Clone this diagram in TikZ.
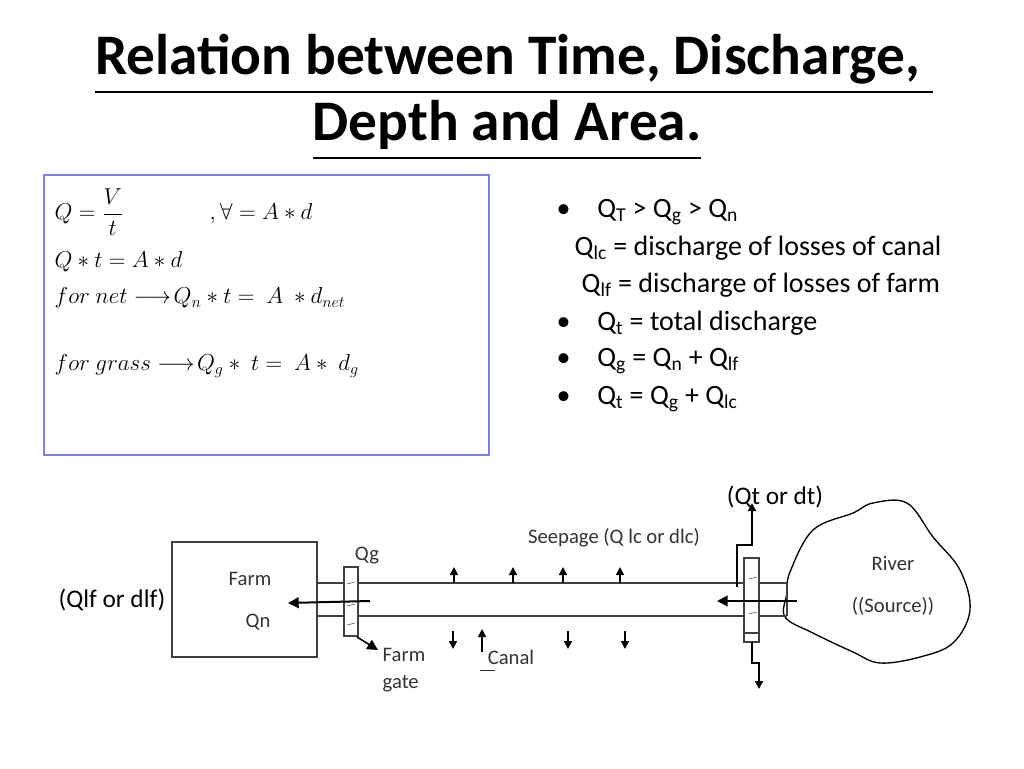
\documentclass[tikz,border=0pt]{standalone}
\usepackage{fontspec}
\setmainfont{Carlito}
\usepackage{amsmath,amssymb}
\usetikzlibrary{arrows.meta}

\begin{document}
\begin{tikzpicture}[
        x=0.75pt,y=-0.75pt,
        canal/.style={draw=black!75,line width=0.8pt},
        flow/.style={line width=1.5pt,-{Triangle[length=8pt,width=8pt]}},
        seep/.style={line width=1.2pt,-{Triangle[length=6pt,width=6pt]}},
        lbl/.style={font=\fontsize{15.5}{18}\selectfont,text=black!80},
        biglbl/.style={font=\fontsize{19}{22}\selectfont},
        bul/.style={font=\fontsize{21}{24}\selectfont,anchor=west},
        eq/.style={font=\fontsize{18.5}{22}\selectfont,anchor=west}
      ]
      \useasboundingbox (0,0) rectangle (1024,768);

      % title
      \node[font=\fontsize{43}{50}\selectfont\bfseries] (title1) at (514,65) {\underline{Relation between Time, Discharge, }};
      \node[font=\fontsize{43}{50}\selectfont\bfseries] (title2) at (507,131) {\underline{Depth and Area.}};

      % equation box
      \draw[draw=black!30!blue!50,line width=0.8pt] (44,175) rectangle (489,455);
      \node[eq] (eq1) at (50,212) {$Q=\dfrac{V}{t}$};
      \node[eq] (eq1b) at (205,214) {$,\forall=A\ast d$};
      \node[eq] (eq2) at (50,262) {$Q\ast t=A\ast d$};
      \node[eq] (eq3) at (50,298) {$for\ net\longrightarrow\!Q_n\ast t=\ A\ \ast d_{net}$};
      \node[eq] (eq4) at (50,366) {$for\ grass\longrightarrow\!Q_g\ast\ t=\ A\ast\ d_g$};

      % river (drawn first, canal end lies over it)
      \draw[line width=1pt,fill=white] plot[smooth cycle,tension=0.6] coordinates {
        (790,572) (813,530) (853,513) (873,503) (907,503) (933,537)
        (960,570) (970,610) (953,643) (920,657) (880,663) (853,652)
        (813,633) (785,617) (787,593)};
      \node[lbl] (river) at (893,563) {River};
      \node[lbl] (source) at (893,606) {((Source))};

      % bullet list
      \node[bul] (b1) at (552,212) {\textbullet\hspace{20pt}Q\textsubscript{T} > Q\textsubscript{g} > Q\textsubscript{n}};
      \node[bul] (b2) at (570,248) {Q\textsubscript{lc} = discharge of losses of canal};
      \node[bul] (b3) at (577,285) {Q\textsubscript{lf} = discharge of losses of farm};
      \node[bul] (b4) at (552,323) {\textbullet\hspace{20pt}Q\textsubscript{t} = total discharge};
      \node[bul] (b5) at (552,361) {\textbullet\hspace{20pt}Q\textsubscript{g} = Q\textsubscript{n} + Q\textsubscript{lf}};
      \node[bul] (b6) at (552,399) {\textbullet\hspace{20pt}Q\textsubscript{t} = Q\textsubscript{g} + Q\textsubscript{lc}};

      % farm
      \draw[canal] (172,542) rectangle (317,657);
      \node[lbl] (farm) at (250,579) {Farm};
      \node[lbl] (qn) at (258,622) {Qn};
      \node[biglbl] (qlf) at (112,600) {(Qlf or dlf)};

      % canal
      \draw[canal] (317,583) -- (787,583);
      \draw[canal] (317,616) -- (787,616);
      \draw[canal] (317,583) -- (317,616);
      \draw[canal] (787,583) -- (787,616);

      % farm gate
      \draw[canal,fill=white] (344,567) rectangle (358,636);
      \foreach \y in {583,605,624} \draw[black!70] (347,\y+1) -- (355,\y-1);
      \node[lbl] (qg) at (367,556) {Qg};
      \draw[flow] (370,601) -- (288,603);
      \draw[flow,line width=1.2pt] (357,637) -- (378,650);
      \node[lbl,align=left] (gate) at (404,670) {Farm\\[2pt]gate};

      % seepage
      \node[lbl] (seepage) at (614,538) {Seepage (Q lc or dlc)};
      \foreach \x in {454,513,563,620} \draw[seep] (\x,583) -- (\x,567);
      \foreach \x in {453,568,625} \draw[seep] (\x,631) -- (\x,649);
      \draw[seep] (482,652) -- (482,629);
      \node[lbl] (canallbl) at (511,657) {Canal};
      \draw[black!80] (480,670) -- (495,670);

      % head gate
      \draw[canal,fill=white] (744,558) rectangle (759,642);
      \draw[canal] (744,633) -- (759,633);
      \foreach \y in {578,613} \draw[black!70] (749,\y+1) -- (757,\y-1);
      \draw[flow] (797,601) -- (717,601);
      \draw[seep,line width=1.4pt] (737,587) -- (737,545) -- (752,545) -- (752,503);
      \draw[seep,line width=1.4pt] (752,642) -- (752,663) -- (759,663) -- (759,689);
      \node[biglbl] (qt) at (775,497) {(Qt or dt)};
    \end{tikzpicture}
\end{document}
